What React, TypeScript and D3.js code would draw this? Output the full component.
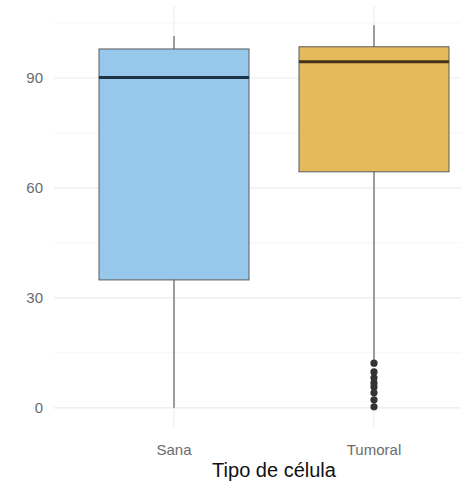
import { useEffect, useRef } from 'react';
import * as d3 from 'd3';

// box stats
const categories = ['Sana', 'Tumoral'];
const whiskerLow = [0, 13];
const q1 = [34.9, 64.4];
const median = [90.1, 94.4];
const q3 = [97.9, 98.5];
const whiskerHigh = [101.4, 104.4];
const fills = ['#97c8ec', '#e5ba5b'];
const medianColors = ['#1d3446', '#45301a'];
const tumoralOutliers = [12.2, 9.8, 8.2, 6.8, 5.7, 4.1, 2.2, 0.3];
const yTicks = [0, 30, 60, 90];
const yMinor = [15, 45, 75, 105];

export default function App() {
  const svgRef = useRef<SVGSVGElement>(null);

  useEffect(() => {
    if (!svgRef.current) return;
    const width = 461;
    const height = 483;
    const panel = { left: 54, right: 494, top: 6, bottom: 427 };

    const svg = d3.select(svgRef.current);
    svg.selectAll('*').remove();

    const x = d3
      .scalePoint<string>()
      .domain(categories)
      .range([panel.left, panel.right])
      .padding(0.6);
    const step = x.step();

    const yMax = d3.max(whiskerHigh) || 0;
    const pad = yMax * 0.05;
    const y = d3
      .scaleLinear()
      .domain([-pad, yMax + pad])
      .range([panel.bottom, panel.top]);

    const grid = svg.append('g');
    // minor horizontal
    grid
      .selectAll('.minor')
      .data(yMinor)
      .enter()
      .append('line')
      .attr('x1', panel.left)
      .attr('x2', width)
      .attr('y1', (d) => y(d))
      .attr('y2', (d) => y(d))
      .attr('stroke', '#f2f2f2')
      .attr('stroke-width', 0.8);
    // major horizontal
    grid
      .selectAll('.major')
      .data(yTicks)
      .enter()
      .append('line')
      .attr('x1', panel.left)
      .attr('x2', width)
      .attr('y1', (d) => y(d))
      .attr('y2', (d) => y(d))
      .attr('stroke', '#ebebeb')
      .attr('stroke-width', 1.1);
    // vertical
    grid
      .selectAll('.vert')
      .data(categories)
      .enter()
      .append('line')
      .attr('x1', (d) => x(d) || 0)
      .attr('x2', (d) => x(d) || 0)
      .attr('y1', panel.top)
      .attr('y2', panel.bottom)
      .attr('stroke', '#ebebeb')
      .attr('stroke-width', 1.1);

    const boxW = step * 0.75;
    const boxes = svg
      .selectAll('.box')
      .data(categories)
      .enter()
      .append('g')
      .attr('transform', (d) => `translate(${x(d) || 0},0)`);

    boxes
      .append('line')
      .attr('x1', 0)
      .attr('x2', 0)
      .attr('y1', (_, i) => y(whiskerHigh[i]))
      .attr('y2', (_, i) => y(q3[i]))
      .attr('stroke', '#444')
      .attr('stroke-width', 1);
    boxes
      .append('line')
      .attr('x1', 0)
      .attr('x2', 0)
      .attr('y1', (_, i) => y(q1[i]))
      .attr('y2', (_, i) => y(whiskerLow[i]))
      .attr('stroke', '#444')
      .attr('stroke-width', 1);
    boxes
      .append('rect')
      .attr('x', -boxW / 2)
      .attr('width', boxW)
      .attr('y', (_, i) => y(q3[i]))
      .attr('height', (_, i) => y(q1[i]) - y(q3[i]))
      .attr('fill', (_, i) => fills[i])
      .attr('stroke', '#5a5a5a')
      .attr('stroke-width', 1);
    boxes
      .append('line')
      .attr('x1', -boxW / 2)
      .attr('x2', boxW / 2)
      .attr('y1', (_, i) => y(median[i]))
      .attr('y2', (_, i) => y(median[i]))
      .attr('stroke', (_, i) => medianColors[i])
      .attr('stroke-width', 3);

    svg
      .selectAll('.outlier')
      .data(tumoralOutliers)
      .enter()
      .append('circle')
      .attr('cx', x('Tumoral') || 0)
      .attr('cy', (d) => y(d))
      .attr('r', 3.6)
      .attr('fill', '#333');

    svg
      .selectAll('.ytick')
      .data(yTicks)
      .enter()
      .append('text')
      .attr('x', 43)
      .attr('y', (d) => y(d))
      .attr('dy', '0.35em')
      .attr('text-anchor', 'end')
      .attr('font-size', 15)
      .attr('fill', '#6b6b6b')
      .text((d) => d);

    svg
      .selectAll('.xtick')
      .data(categories)
      .enter()
      .append('text')
      .attr('x', (d) => x(d) || 0)
      .attr('y', 455)
      .attr('text-anchor', 'middle')
      .attr('font-size', 15)
      .attr('fill', '#6b6b6b')
      .text((d) => d);

    svg
      .append('text')
      .attr('x', (panel.left + panel.right) / 2)
      .attr('y', 477)
      .attr('text-anchor', 'middle')
      .attr('font-size', 20)
      .attr('fill', '#111')
      .text('Tipo de célula');

    svg.attr('width', width).attr('height', height);
  }, []);

  return (
    <svg
      ref={svgRef}
      width={461}
      height={483}
      style={{
        position: 'absolute',
        left: 0,
        top: 0,
        background: '#fff',
        fontFamily: '"Liberation Sans", Arial, sans-serif',
      }}
    />
  );
}
